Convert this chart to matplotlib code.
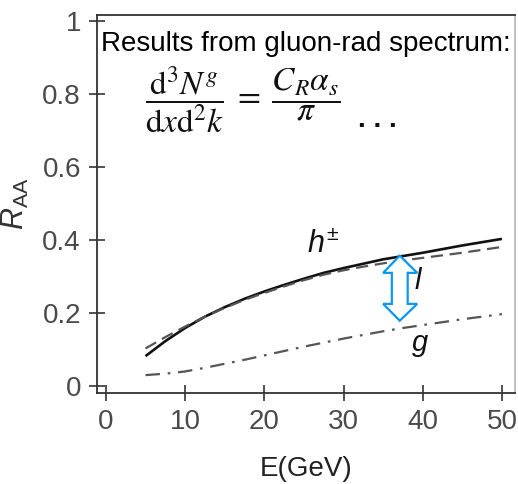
import numpy as np
import matplotlib
matplotlib.use('Agg')
from matplotlib import pyplot as plt
from matplotlib.patches import Polygon

plt.rcParams['font.family'] = ['Liberation Sans', 'DejaVu Sans']
plt.rcParams['mathtext.fontset'] = 'custom'
plt.rcParams['mathtext.rm'] = 'Liberation Sans'
plt.rcParams['mathtext.it'] = 'Liberation Sans:italic'

# values
energy = [5, 7.5, 10, 12.5, 15, 17.5, 20, 22.5, 25, 27.5, 30, 32.5, 35, 37.5, 40, 42.5, 45, 47.5, 50]
raa_hadron = [0.082, 0.123, 0.159, 0.190, 0.216, 0.239, 0.259, 0.277, 0.294, 0.310, 0.323,
              0.335, 0.347, 0.356, 0.365, 0.375, 0.385, 0.394, 0.403]
raa_light = [0.103, 0.134, 0.163, 0.190, 0.214, 0.236, 0.255, 0.273, 0.290, 0.305, 0.317,
             0.327, 0.336, 0.344, 0.351, 0.358, 0.365, 0.373, 0.381]
raa_gluon = [0.030, 0.034, 0.040, 0.050, 0.061, 0.072, 0.084, 0.096, 0.108, 0.119, 0.130,
             0.140, 0.150, 0.159, 0.167, 0.175, 0.183, 0.190, 0.197]
x_ticks = [0, 10, 20, 30, 40, 50]
y_ticks = [0, 0.2, 0.4, 0.6, 0.8, 1]
y_ticklabels = ['0', '0.2', '0.4', '0.6', '0.8', '1']

fig = plt.figure(figsize=(5.18, 4.84), dpi=100)
ax = fig.add_axes([0.187, 0.188, 0.808, 0.781])

ax.plot(energy, raa_hadron, color='#111111', lw=1.9, solid_capstyle='butt')
ax.plot(energy, raa_light, color='#555555', lw=1.6, dashes=(5.5, 3))
ax.plot(energy, raa_gluon, color='#555555', lw=1.6, dashes=(6.5, 3.5, 1.2, 3.5))

ax.set_xlim(-1.14, 51.7)
ax.set_ylim(-0.019, 1.016)
ax.set_xticks(x_ticks)
ax.set_yticks(y_ticks)
ax.set_yticklabels(y_ticklabels)
ax.tick_params(direction='inout', length=11, width=1.2, color='#333333',
               labelsize=20, labelcolor='#4a4a4a', pad=6)
for s in ax.spines.values():
    s.set_color('#333333')
    s.set_linewidth(1.3)
ax.spines['right'].set_color('#bbbbbb')

ax.set_xlabel('E(GeV)', fontsize=20, color='#222222', labelpad=15)
ax.set_ylabel(r'$R_{\mathrm{AA}}$', fontsize=22, color='#333333', labelpad=8)

# curve labels
ax.text(25.4, 0.363, r'$h^{\pm}$', fontsize=22, color='#111111')
ax.text(39.0, 0.266, 'l', fontsize=21, style='italic', color='#111111')
ax.text(38.6, 0.096, 'g', fontsize=21, style='italic', color='#111111')

# hollow double arrow
xs = [37.1, 39.3, 38.1, 38.1, 39.3, 37.1, 35.0, 36.1, 36.1, 35.0]
ys = [0.357, 0.310, 0.310, 0.225, 0.225, 0.179, 0.225, 0.225, 0.310, 0.310]
ax.add_patch(Polygon(np.column_stack([xs, ys]), closed=True, facecolor='white',
                     edgecolor='#0a96f5', lw=1.6, zorder=5))

ax.text(0.01, 0.905, 'Results from gluon-rad spectrum:', transform=ax.transAxes,
        fontsize=20, color='black')
ax.text(0.115, 0.775,
        r'$\dfrac{\mathrm{d}^3N^g}{\mathrm{d}x\mathrm{d}^2k}\;=\;\dfrac{C_R\alpha_s}{\pi}$',
        transform=ax.transAxes, fontsize=24, color='#111111', math_fontfamily='stix',
        va='center')
ax.text(0.625, 0.705, '. . .', transform=ax.transAxes, fontsize=20, fontweight='bold',
        color='#111111', va='baseline')

fig.savefig('out.png', dpi=100)
